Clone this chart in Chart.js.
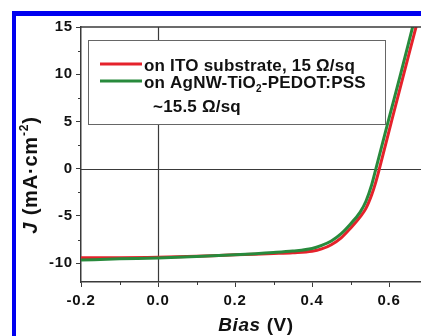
<!DOCTYPE html>
<html>
<head>
<meta charset="utf-8">
<script src="https://cdn.jsdelivr.net/npm/chart.js@4.4.0/dist/chart.umd.min.js"></script>
<style>
    html, body { margin: 0; padding: 0; background: #fff; }
    #wrap { width: 421px; height: 336px; }
</style>
</head>
<body>
<div id="wrap"><canvas id="jvPlot" width="421" height="336"></canvas></div>
<script>
// J-V curves
const biasIto = [-0.2, -0.1, 0.0, 0.1, 0.2, 0.3, 0.35, 0.4, 0.425, 0.45, 0.475, 0.5, 0.525, 0.54, 0.555, 0.565, 0.575, 0.607, 0.64, 0.67, 0.69];
const jIto = [-9.42, -9.42, -9.38, -9.28, -9.12, -8.98, -8.9, -8.75, -8.5, -8.05, -7.35, -6.3, -5.1, -4.2, -2.75, -1.5, 0, 5.1, 10.3, 15, 18.2];

const biasAgnw = [-0.2, -0.1, 0.0, 0.1, 0.2, 0.3, 0.35, 0.4, 0.425, 0.45, 0.475, 0.5, 0.525, 0.54, 0.555, 0.566, 0.6, 0.63, 0.66, 0.68];
const jAgnw = [-9.68, -9.55, -9.45, -9.3, -9.12, -8.88, -8.72, -8.45, -8.12, -7.65, -6.9, -5.85, -4.6, -3.45, -1.7, 0, 5.35, 10.0, 14.8, 18];

const xMinorTicks = [-0.1, 0.1, 0.3, 0.5];
const yMinorTicks = [-7.5, -2.5, 2.5, 7.5, 12.5];

const redColour = '#e5222b';
const greenColour = '#288a3c';
const axisColour = '#3a3a3a';
const FONT = '"Liberation Sans", Arial, sans-serif';

// draws pieces of text [text, font, dy] one after another, centred on 0
function drawRun(ctx, parts, spacing) {
    ctx.letterSpacing = spacing;
    let w = 0;
    parts.forEach(([t, f]) => { ctx.font = f; w += ctx.measureText(t).width; });
    let cx = -w / 2;
    parts.forEach(([t, f, dy]) => {
        ctx.font = f;
        ctx.fillText(t, cx, dy);
        cx += ctx.measureText(t).width;
    });
}

// blue frame, zero lines, top axis, minor ticks and axis titles
const decorations = {
    id: 'decorations',
    beforeDraw(chart) {
        const ctx = chart.ctx;
        ctx.save();
        ctx.fillStyle = '#0000f0';
        ctx.fillRect(12, 11, 421, 5);
        ctx.fillRect(12, 11, 4, 336);
        ctx.restore();
        // the original tick labels are set a little wide
        ctx.letterSpacing = '0.8px';
    },
    beforeDatasetsDraw(chart) {
        const { ctx, chartArea: area, scales: { x, y } } = chart;
        ctx.save();
        ctx.strokeStyle = axisColour;
        ctx.lineWidth = 1.2;
        const x0 = Math.round(x.getPixelForValue(0)) + 0.5;
        const y0 = Math.round(y.getPixelForValue(0)) + 0.5;
        ctx.beginPath();
        ctx.moveTo(x0, area.top);
        ctx.lineTo(x0, area.bottom);
        ctx.moveTo(area.left, y0);
        ctx.lineTo(area.right, y0);
        ctx.stroke();
        ctx.restore();
    },
    afterDraw(chart) {
        const { ctx, chartArea: area, scales: { x, y } } = chart;
        ctx.save();
        ctx.strokeStyle = axisColour;
        ctx.lineWidth = 1.5;
        ctx.beginPath();
        ctx.moveTo(area.left, area.top);
        ctx.lineTo(area.right, area.top);
        ctx.stroke();
        ctx.lineWidth = 1;
        ctx.beginPath();
        xMinorTicks.forEach(v => {
            const px = Math.round(x.getPixelForValue(v)) + 0.5;
            ctx.moveTo(px, area.bottom);
            ctx.lineTo(px, area.bottom + 3);
        });
        yMinorTicks.forEach(v => {
            const py = Math.round(y.getPixelForValue(v)) + 0.5;
            ctx.moveTo(area.left, py);
            ctx.lineTo(area.left - 3, py);
        });
        ctx.stroke();

        ctx.fillStyle = '#111';
        ctx.textBaseline = 'alphabetic';
        ctx.save();
        ctx.translate(256, 331);
        drawRun(ctx, [['Bias', 'italic bold 19px ' + FONT, 0], [' (V)', 'bold 19px ' + FONT, 0]], '0.6px');
        ctx.restore();

        ctx.translate(37, 175);
        ctx.rotate(-Math.PI / 2);
        drawRun(ctx, [
            ['J', 'italic bold 20px ' + FONT, 0],
            [' (mA\u00b7cm', 'bold 20px ' + FONT, 0],
            ['-2', 'bold 12px ' + FONT, -9],
            [')', 'bold 20px ' + FONT, 0]
        ], '0.8px');
        ctx.restore();
        ctx.letterSpacing = '0px';
    }
};

// boxed legend with subscript and the extra line
const legendBox = {
    id: 'legendBox',
    afterDatasetsDraw(chart) {
        const ctx = chart.ctx;
        ctx.save();
        ctx.fillStyle = '#fff';
        ctx.fillRect(88, 40, 297, 84);
        ctx.strokeStyle = '#666';
        ctx.lineWidth = 1;
        ctx.strokeRect(88.5, 40.5, 297, 84);

        ctx.lineWidth = 3;
        ctx.strokeStyle = redColour;
        ctx.beginPath();
        ctx.moveTo(100, 64);
        ctx.lineTo(142, 64);
        ctx.stroke();
        ctx.strokeStyle = greenColour;
        ctx.beginPath();
        ctx.moveTo(100, 81);
        ctx.lineTo(142, 81);
        ctx.stroke();

        ctx.fillStyle = '#111';
        ctx.textBaseline = 'alphabetic';
        ctx.letterSpacing = '0.2px';
        ctx.font = 'bold 17px ' + FONT;
        ctx.fillText('on ITO substrate, 15 \u03a9/sq', 144, 71);
        let cx = 144;
        ctx.fillText('on AgNW-TiO', cx, 88);
        cx += ctx.measureText('on AgNW-TiO').width;
        ctx.font = 'bold 10px ' + FONT;
        ctx.fillText('2', cx, 92);
        cx += ctx.measureText('2').width;
        ctx.font = 'bold 17px ' + FONT;
        ctx.fillText('-PEDOT:PSS', cx, 88);
        ctx.fillText('~15.5 \u03a9/sq', 153, 112);
        ctx.restore();
    }
};

const toPoints = (xs, ys) => xs.map((v, i) => ({ x: v, y: ys[i] }));

new Chart(document.getElementById('jvPlot').getContext('2d'), {
    type: 'line',
    data: {
        datasets: [
            {
                label: 'on AgNW-TiO2-PEDOT:PSS ~15.5 \u03a9/sq',
                data: toPoints(biasAgnw, jAgnw),
                borderColor: greenColour,
                borderWidth: 3,
                pointRadius: 0,
                cubicInterpolationMode: 'monotone',
                clip: 0,
                order: 0
            },
            {
                label: 'on ITO substrate, 15 \u03a9/sq',
                data: toPoints(biasIto, jIto),
                borderColor: redColour,
                borderWidth: 3,
                pointRadius: 0,
                cubicInterpolationMode: 'monotone',
                clip: 0,
                order: 1
            }
        ]
    },
    options: {
        responsive: false,
        animation: false,
        devicePixelRatio: 1,
        layout: { padding: { top: 27, left: 0, right: 0, bottom: 0 } },
        scales: {
            x: {
                type: 'linear',
                min: -0.2,
                max: 0.683,
                afterFit: scale => { scale.height = 54; },
                ticks: {
                    stepSize: 0.2,
                    includeBounds: false,
                    maxRotation: 0,
                    padding: 5,
                    color: '#111',
                    font: { family: FONT, size: 15, weight: 'bold' },
                    callback: v => v.toFixed(1)
                },
                grid: { drawOnChartArea: false, tickLength: 5, tickColor: axisColour, tickWidth: 1 },
                border: { color: axisColour, width: 1.5 }
            },
            y: {
                min: -12,
                max: 15,
                afterFit: scale => { scale.width = 81; },
                ticks: {
                    stepSize: 5,
                    includeBounds: false,
                    padding: 3,
                    color: '#111',
                    font: { family: FONT, size: 15, weight: 'bold' },
                    callback: v => v
                },
                grid: { drawOnChartArea: false, tickLength: 5, tickColor: axisColour, tickWidth: 1 },
                border: { color: axisColour, width: 1.5 }
            }
        },
        plugins: {
            legend: { display: false },
            tooltip: { enabled: false }
        }
    },
    plugins: [decorations, legendBox]
});
</script>
</body>
</html>
